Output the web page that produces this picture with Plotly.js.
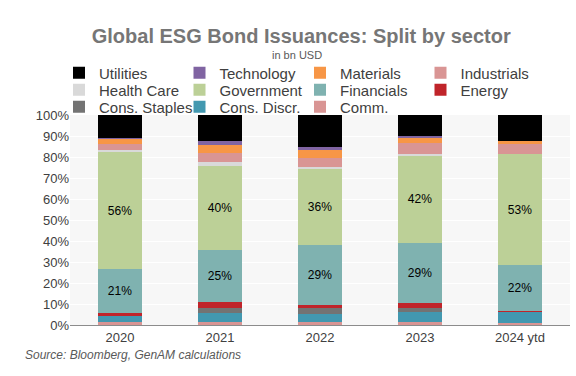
<!DOCTYPE html>
<html>
<head>
<meta charset="utf-8">
<script src="https://cdn.plot.ly/plotly-3.0.1.min.js"></script>
<style>html,body{margin:0;padding:0;background:#fff;}#chart{width:576px;height:376px;}</style>
</head>
<body>
<div id="chart"></div>
<script>
const years = ["2020", "2021", "2022", "2023", "2024 ytd"];
// Sector shares (%), stacked bottom to top
const comm        = [1.3, 1.4, 1.3, 1.3, 1.1];
const consDiscr   = [3.0, 4.4, 3.8, 4.9, 5.0];
const consStaples = [0.2, 2.5, 2.8, 1.7, 0.1];
const energy      = [1.0, 2.5, 1.6, 2.4, 0.6];
const financials  = [21.0, 25.0, 28.7, 28.6, 21.6];
const government  = [56.0, 40.0, 36.0, 41.8, 52.9];
const healthCare  = [0.8, 1.9, 0.9, 0.8, 0.2];
const industrials = [3.0, 4.3, 4.4, 5.4, 4.7];
const materials   = [2.2, 3.8, 3.8, 2.2, 1.4];
const technology  = [0.5, 1.6, 1.7, 0.9, 0.2];
const utilities   = [11.0, 12.6, 15.0, 10.0, 12.2];

// legend row / rank follow the reference legend layout
const series = [
  {name: "Comm.", y: comm, color: "#d99594", leg: "legend3", rank: 3},
  {name: "Cons. Discr.", y: consDiscr, color: "#4298b0", leg: "legend3", rank: 2},
  {name: "Cons. Staples", y: consStaples, color: "#737373", leg: "legend3", rank: 1},
  {name: "Energy", y: energy, color: "#c0242a", leg: "legend2", rank: 4},
  {name: "Financials", y: financials, color: "#7fb2b0", leg: "legend2", rank: 3, label: true},
  {name: "Government", y: government, color: "#bcd097", leg: "legend2", rank: 2, label: true},
  {name: "Health Care", y: healthCare, color: "#d9d9d9", leg: "legend2", rank: 1},
  {name: "Industrials", y: industrials, color: "#d99594", leg: "legend", rank: 4},
  {name: "Materials", y: materials, color: "#f79646", leg: "legend", rank: 3},
  {name: "Technology", y: technology, color: "#8064a2", leg: "legend", rank: 2},
  {name: "Utilities", y: utilities, color: "#000000", leg: "legend", rank: 1}
];

const traces = series.map((s) => {
  const t = {
    type: "bar",
    name: s.name,
    x: years,
    y: s.y,
    marker: {color: s.color, line: {width: 0}},
    legend: s.leg,
    legendrank: s.rank,
    hoverinfo: "name+y"
  };
  if (s.label) {
    t.texttemplate = "%{y:.0f}%";
    t.textposition = "inside";
    t.insidetextanchor = "middle";
    t.textfont = {family: "Liberation Sans, Arial, sans-serif", size: 12, color: "#000000"};
  } else {
    t.textposition = "none";
  }
  return t;
});

function legendRow(y) {
  return {
    orientation: "h",
    traceorder: "normal",
    x: -0.022, xanchor: "left",
    y: y, yanchor: "top",
    entrywidth: 75.5,
    entrywidthmode: "pixels",
    font: {size: 15, color: "#404040", family: "Liberation Sans, Arial, sans-serif"},
    bgcolor: "rgba(0,0,0,0)",
    itemwidth: 30
  };
}

const layout = {
  width: 576,
  height: 376,
  barmode: "stack",
  bargap: 0.56,
  paper_bgcolor: "#ffffff",
  plot_bgcolor: "#f7f7f7",
  margin: {l: 70, r: 6, t: 115, b: 51},
  font: {family: "Liberation Sans, Arial, sans-serif", color: "#595959"},
  title: {
    text: "<b>Global ESG Bond Issuances: Split by sector</b>",
    font: {size: 20, color: "#767676", family: "Liberation Sans, Arial, sans-serif"},
    x: 0.523, xanchor: "center", y: 0.905, yanchor: "middle"
  },
  xaxis: {
    type: "category",
    showgrid: false,
    showline: true,
    linecolor: "#8c8c8c",
    linewidth: 1,
    ticks: "",
    tickfont: {size: 13, color: "#404040"}
  },
  yaxis: {
    range: [0, 100],
    dtick: 10,
    ticksuffix: "%",
    showgrid: true,
    gridcolor: "#ffffff",
    gridwidth: 1,
    zeroline: false,
    showline: false,
    ticks: "",
    tickfont: {size: 13, color: "#404040"},
    fixedrange: true
  },
  legend: legendRow(1.279),
  legend2: legendRow(1.198),
  legend3: legendRow(1.117),
  annotations: [
    {text: "in bn USD", xref: "paper", yref: "paper", x: 0.454, y: 1.287, xanchor: "center", yanchor: "middle",
     showarrow: false, font: {size: 11, color: "#595959"}},
    {text: "<i>Source: Bloomberg, GenAM calculations</i>", xref: "paper", yref: "paper", x: -0.094, y: -0.145,
     xanchor: "left", yanchor: "middle", showarrow: false, font: {size: 12, color: "#595959"}}
  ]
};

Plotly.newPlot("chart", traces, layout, {displayModeBar: false, staticPlot: true});
</script>
</body>
</html>
